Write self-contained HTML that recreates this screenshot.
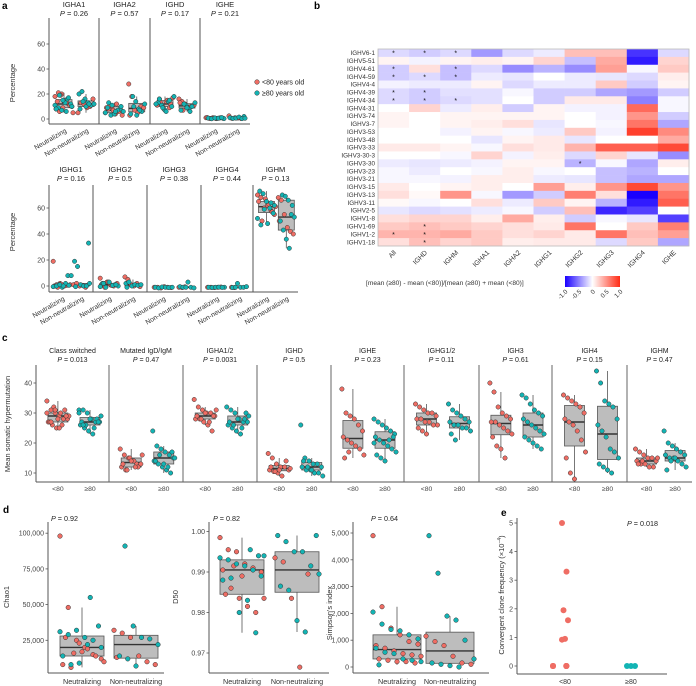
<!DOCTYPE html>
<html><head><meta charset="utf-8"><style>
html,body{margin:0;padding:0;background:#fff;}
svg{display:block;font-family:"Liberation Sans",sans-serif;}
</style></head><body>
<svg id="fig" width="696" height="686" viewBox="0 0 696 686" xmlns="http://www.w3.org/2000/svg"></svg>
<script>
// ---------------- DATA ----------------
const aTopFacets=['IGHA1','IGHA2','IGHD','IGHE'];
const aTopP=['0.26','0.57','0.17','0.21'];
const aTopNeutRed=[[18,21,20,15,12,10,8,6,9,13,11,5,14,19],[5,8,10,4,6,3,9,11,7,12],[12,16,10,14,9,17,11,13,8,15,12],[1,0.5,1,0.3,0.8,0.6,1.2,0.4,0.9]];
const aTopNeutTeal=[[14,16,12,11,9,7,13,17,10,8,19,15,6],[8,6,9,3,4,7,10,5,13,11,6],[18,13,11,7,14,10,12,16,9,6,15],[0.5,1,0.3,0.7,0.2,0.8,0.6,1.1]];
const aTopNonRed=[[5,13,12,9,10,16],[28,18,7,5,10,9,3],[16,14,12,9,10,11,13,7],[2.5,0.5,1,0.8,0.4]];
const aTopNonTeal=[[20,22,16,13,11,12,8,14,10,12],[18,14,8,6,12,4,10,3,7],[11,8,10,13,7,12,9,6],[2,1,0.5,0.7,1.5,0.3,0.6]];
const aBotFacets=['IGHG1','IGHG2','IGHG3','IGHG4','IGHM'];
const aBotP=['0.16','0.5','0.38','0.44','0.13'];
const aBotNeutRed=[[19,1,2,0,0.5,1,0,-1,1.5,0],[6,2,3,1,0,2,1,-1,3,0.5],[-1,-1,-1.5,-0.5,-1,-1.2],[-1,-1,-1.2,-1,-0.8],[70,68,60,62,58,55,65,50,67,63,57,61]];
const aBotNeutTeal=[[8,8,0,1,-1,2,0.5,-0.5,0,1,0],[1,0,2,-1,3,0.5,1,-0.5,2],[-1,-1.5,-0.8,-1,-1.2,-1],[-1,-1,-1.2,-1,-0.9,-1.1],[73,71,65,60,56,52,47,59,48,64,62]];
const aBotNonRed=[[1,2,0,0.5,-1],[7,5,1,0,2,-0.5],[-1,-1.2,-0.6],[-1,-1.2],[68,66,55,45,42,40,50]];
const aBotNonTeal=[[33,19,15,1,0,0,2,-0.5],[2,3,0,1,0.5,1,-1],[3,-1,-1.5,-0.5,-1,-1],[2,-1,-1,-0.5,-1.2,-1],[70,69,66,55,53,50,43,36,29,62]];
const aYTicks=[0,20,40,60];

const heatRows=['IGHV6-1','IGHV5-51','IGHV4-61','IGHV4-59','IGHV4-4','IGHV4-39','IGHV4-34','IGHV4-31','IGHV3-74','IGHV3-7','IGHV3-53','IGHV3-48','IGHV3-33','IGHV3-30-3','IGHV3-30','IGHV3-23','IGHV3-21','IGHV3-15','IGHV3-13','IGHV3-11','IGHV2-5','IGHV1-8','IGHV1-69','IGHV1-2','IGHV1-18'];
const heatCols=['All','IGHD','IGHM','IGHA1','IGHA2','IGHG1','IGHG2','IGHG3','IGHG4','IGHE'];
const heatValues=[
[-.15,-.2,-.15,-.4,-.15,-.08,.3,.3,-.8,-.15],
[.05,-.05,.05,.08,.05,.2,-.25,.4,-.9,.2],
[-.2,.15,-.25,-.15,-.45,-.3,-.45,.45,-.03,.25],
[-.2,-.15,-.25,-.08,-.1,0,-.08,-.1,-.15,.08],
[-.05,-.08,-.08,.05,-.15,-.08,-.08,.25,-.2,.05],
[-.15,-.2,-.12,-.12,-.03,-.2,-.2,-.35,-.4,-.2],
[-.15,-.2,-.15,-.12,0,-.2,.1,.1,-.5,-.03],
[0,.2,-.08,.08,-.2,.05,-.05,-.05,.7,-.03],
[.05,0,.05,.05,.05,.05,0,-.05,.5,-.2],
[.05,0,.05,.08,.15,-.1,0,-.03,.65,-.35],
[0,0,-.05,.05,-.03,-.08,.25,-.05,.9,.55],
[0,0,0,-.1,.05,.1,-.1,0,0,.4],
[.1,.1,.05,-.03,.15,.1,.35,.75,.75,.85],
[0,0,-.03,.2,-.05,.08,-.15,.2,-.1,-.45],
[-.08,-.1,-.08,-.05,.05,.05,-.3,-.03,-.35,.08],
[-.03,-.08,0,-.03,.08,-.03,0,-.25,-.3,0],
[-.03,-.03,-.05,.08,.08,-.08,-.1,-.25,-.35,-.35],
[.1,0,.05,.08,0,.45,.08,.5,.85,.5],
[.15,.03,.5,-.03,-.4,-.2,.6,.15,-1,.65],
[.03,-.03,0,.15,-.08,.25,.05,-.3,-.9,.75],
[-.1,-.15,-.12,-.08,-.03,-.2,.3,-.85,-.75,0],
[.15,.2,.2,.08,.4,.08,-.2,-.03,-.1,-.75],
[.25,.3,.25,.2,.15,.1,.65,0,.25,.6],
[.35,.35,.4,.25,.15,.2,.1,.65,.3,.45],
[.15,.3,.2,.25,.08,.1,.1,-.15,.25,-.35]];
const heatStars=[[0,0],[0,1],[0,2],[2,0],[2,2],[3,0],[3,1],[3,2],[5,0],[5,1],[6,0],[6,1],[6,2],[14,6],[22,1],[23,0],[23,1],[24,1]];
const heatLegendTicks=[-1,-0.5,0,0.5,1];
const heatLegendLabels=['-1.0','-0.5','0','0.5','1.0'];

const cFacets=['Class switched','Mutated IgD/IgM','IGHA1/2','IGHD','IGHE','IGHG1/2','IGH3','IGH4','IGHM'];
const cP=['0.013','0.47','0.0031','0.5','0.23','0.11','0.61','0.15','0.47'];
const cYoung=[[34,31,30,29,28,28,27,26,25,30,31,29,27,32,28,26,29,30,27,31,25],[18,16,15,14,13,13,12,11,15,14,12,16,13,11,14,12],[34.5,32,31,30,30,29,28,28,27,26,24,31,29,28,30,27,29],[16.5,15,13,12,12,11,11,10.5,10,9,14,11.5,12,10.5,11],[38,30,29,28,26,24,22,21,20,19,18,16,15,17],[33,32,31,30,30,29,28,28,27,27,26,26,25,24,23],[40,37,32,30,29,28,27,27,26,25,24,23,22,19,18,15],[36,35,34,33,32,30,28,27,26,24,21,17,15,10,8],[18,17,16,15,15,14,14,13,13,12,12,15,13,14]];
const cOld=[[31,31,30,28,27,27,26,25,24,23,28,29,27,26,28,25,27,30,26],[24,19,18,17,16,15,14,13,12,11,10,15,14,16,13,12,17],[32,31,30,28,27,27,26,25,24,23,28,29,27,26,28,25,30],[26,15,14,13,13,12,12,11,11,10,10,9,14,12,11],[28,27,26,25,24,23,22,21,20,19,18,17,16,15,14,21,22,20],[33,31,30,29,28,27,27,26,26,25,25,24,23,21],[36,35,33,31,30,29,28,27,26,25,24,23,22,21,20,19,18],[44,40,34,33,32,28,26,24,22,18,17,15,13,12,11,10],[24,20,19,18,17,16,16,15,15,14,13,12,11,14,15]];
const cYTicks=[10,20,30,40];

const chaoNeutRed=[98000,48000,25000,20000,15000,12000,8000,6000,23000,19000,14000,10000,27000,16000,17000];
const chaoNeutTeal=[55000,35000,31000,29000,32000,27000,25000,20000,14000,8000,9000,22000];
const chaoNonRed=[32000,30000,27000,14000,10000,8000,13000];
const chaoNonTeal=[91000,35000,27000,26000,22000,14000,12000,7000];
const chaoTicks=[25000,50000,75000,100000];
const chaoTickLabels=['25,000','50,000','75,000','100,000'];
const d50NeutRed=[0.9985,0.9955,0.995,0.992,0.991,0.990,0.9905,0.986,0.9835,0.9815,0.980,0.9835,0.9845,0.9915,0.989];
const d50NeutTeal=[0.9955,0.994,0.9935,0.993,0.992,0.9915,0.9905,0.989,0.988,0.9885,0.980,0.983,0.975,0.994];
const d50NonRed=[0.9935,0.9925,0.9835,0.9665,0.9895];
const d50NonTeal=[0.999,0.999,0.9975,0.995,0.995,0.9915,0.9895,0.9865,0.9855,0.978,0.9752];
const d50Ticks=[0.97,0.98,0.99,1.00];
const d50TickLabels=['0.97','0.98','0.99','1.00'];
const simNeutRed=[4900,2250,1450,1200,950,850,800,700,600,500,450,400,300,250,200,200,150];
const simNeutTeal=[2050,1600,1400,1350,1200,1050,700,550,500,300,250,200,80];
const simNonRed=[1150,950,800,400,150,100];
const simNonTeal=[4900,3500,1900,1750,1000,300,150,100,50,0];
const simTicks=[0,1000,2000,3000,4000,5000];
const simTickLabels=['0','1,000','2,000','3,000','4,000','5,000'];
const eYoung=[5,3.3,1.95,1.6,0.95,0.92,0,0,0,0,0,0,0,0,0,0];
const eOld=[0,0,0];
const eTicks=[0,1,2,3,4,5];

// ---------------- HELPERS ----------------
const NS='http://www.w3.org/2000/svg';
const svg=document.getElementById('fig');
const RED='#ef6d64', TEAL='#13b4b4';
function mk(tag,attrs,parent){const e=document.createElementNS(NS,tag);for(const k in attrs)e.setAttribute(k,attrs[k]);(parent||svg).appendChild(e);return e;}
function txt(x,y,s,size,anchor,extra){const t=mk('text',Object.assign({x:x,y:y,'font-size':size,'text-anchor':anchor||'middle',fill:'#222'},extra||{}));t.textContent=s;return t;}
function pText(x,y,val,size){const t=mk('text',{x:x,y:y,'font-size':size,'text-anchor':'middle',fill:'#222'});const a=document.createElementNS(NS,'tspan');a.setAttribute('font-style','italic');a.textContent='P';t.appendChild(a);t.appendChild(document.createTextNode(' = '+val));return t;}
function quant(arr,p){const s=arr.slice().sort((a,b)=>a-b);const h=(s.length-1)*p;const lo=Math.floor(h);return s[lo]+(s[Math.min(lo+1,s.length-1)]-s[lo])*(h-lo);}
function jit(i,w){return ((((i*37)%17)/16)-0.5)*w;}
function line(x1,y1,x2,y2,col,w){return mk('line',{x1:x1,y1:y1,x2:x2,y2:y2,stroke:col||'#444','stroke-width':w||1});}
function drawBox(cx,vals,ys,bw){
  const q1=quant(vals,.25),q3=quant(vals,.75),med=quant(vals,.5),iqr=q3-q1;
  const hi=Math.max(...vals.filter(v=>v<=q3+1.5*iqr)),lo=Math.min(...vals.filter(v=>v>=q1-1.5*iqr));
  const w1=line(cx,ys(q3),cx,ys(hi),'#555',0.8);
  
  
  const w2=line(cx,ys(q1),cx,ys(lo),'#555',0.8);
  
  
  const r=mk('rect',{x:cx-bw/2,y:ys(q3),width:bw,height:Math.max(0.5,ys(q1)-ys(q3)),fill:'#bdbdbd',stroke:'#555','stroke-width':0.8});
  
  
  const m=line(cx-bw/2,ys(med),cx+bw/2,ys(med),'#333',1.4);
  
  
}
function drawPoints(cx,red,teal,ys,jw,rad,outline){
  const pts=[];red.forEach(v=>pts.push([v,RED]));teal.forEach(v=>pts.push([v,TEAL]));
  pts.forEach((p,i)=>{
    const c=mk('circle',{cx:cx+jit(i,jw),cy:ys(p[0]),r:rad,fill:p[1],stroke:outline?'#333':'none','stroke-width':0.5});
    
    
  });
}
function yAxis(x,yTop,yBot,ticks,labels,ys,size){
  const a=line(x,yTop,x,yBot,'#555',1);
  
  
  ticks.forEach((t,i)=>{
    const tk=line(x-2.5,ys(t),x,ys(t),'#555',0.8);
    
    
    const l=txt(x-4,ys(t)+2.5,labels[i],size||7,'end',{fill:'#444'});
    
    
  });
}
function panelLabel(x,y,s){const t=txt(x,y,s,10,'start',{'font-weight':'bold',fill:'#000'});}
function rotLabel(x,y,s,size,angle,anchor){const t=mk('text',{x:0,y:0,'font-size':size,'text-anchor':anchor||'end',fill:'#333',transform:'translate('+x+','+y+') rotate('+angle+')'});t.textContent=s;return t;}

// ---------------- PANEL A ----------------
panelLabel(2,9,'a');
function aRow(facets,pv,edges,nR,nT,oR,oT,ys,yTop,yBot,titleY){
  yAxis(edges[0],yTop,yBot,aYTicks,aYTicks.map(String),ys,7);
  const bx=line(edges[0],yBot,edges[edges.length-1],yBot,'#555',1);
  
  
  facets.forEach((f,i)=>{
    const x0=edges[i],x1=edges[i+1],w=x1-x0;
    if(i>0){const s=line(x0,yTop,x0,yBot,'#555',1);}
    const t=txt((x0+x1)/2,titleY,f,7.5);
    pText((x0+x1)/2,titleY+9,pv[i],7.5);
    const c1=x0+w*0.3,c2=x0+w*0.74;
    drawBox(c1,nR[i].concat(nT[i]),ys,16);drawBox(c2,oR[i].concat(oT[i]),ys,16);
    drawPoints(c1,nR[i],nT[i],ys,18,2.2,true);drawPoints(c2,oR[i],oT[i],ys,16,2.2,true);
    const l1=rotLabel(c1+3,yBot+8,'Neutralizing',6.8,-30);
    const l2=rotLabel(c2+3,yBot+8,'Non-neutralizing',6.8,-30);
  });
}
const aTopY=v=>119-v*1.25;
aRow(aTopFacets,aTopP,[49,99,150,200,250],aTopNeutRed,aTopNeutTeal,aTopNonRed,aTopNonTeal,aTopY,18,124,7);
const aBotY=v=>286-v*1.3;
aRow(aBotFacets,aBotP,[49,93,147,201,253,298],aBotNeutRed,aBotNeutTeal,aBotNonRed,aBotNonTeal,aBotY,185,292,172);
[[15,83],[15,232]].forEach(p=>{const t=rotLabel(p[0],p[1],'Percentage',7.5,-90,'middle');});
// legend
[[RED,'<80 years old',82],[TEAL,'≥80 years old',93]].forEach(l=>{
  const c=mk('circle',{cx:257,cy:l[2],r:2.3,fill:l[0],stroke:'#333','stroke-width':0.5});
  
  
  const t=txt(262,l[2]+2.5,l[1],7,'start');
  
  
});

// ---------------- PANEL B ----------------
panelLabel(314,9,'b');
const hx0=378,hx1=689,hy0=49,hy1=246;
const cw=(hx1-hx0)/heatCols.length, rh=(hy1-hy0)/heatRows.length;
function heatColor(v){let r,g,b;if(v>=0){r=255;g=255+(42-255)*v;b=255+(20-255)*v;}else{const t=-v;r=255+(25-255)*t;g=255-255*t;b=255;}return 'rgb('+Math.round(r)+','+Math.round(g)+','+Math.round(b)+')';}
heatValues.forEach((row,ri)=>row.forEach((v,ci)=>{
  const r=mk('rect',{x:hx0+ci*cw,y:hy0+ri*rh,width:cw+0.3,height:rh+0.3,fill:heatColor(v)});
  
  
}));
const hb=mk('rect',{x:hx0,y:hy0,width:hx1-hx0,height:hy1-hy0,fill:'none',stroke:'#bbb','stroke-width':0.8});


heatStars.forEach(s=>{
  const t=txt(hx0+(s[1]+0.5)*cw,hy0+(s[0]+0.5)*rh+2.8,'*',7,'middle',{fill:'#111'});
  
  
});
heatRows.forEach((r,i)=>{
  const t=txt(hx0-3,hy0+(i+0.5)*rh+2.2,r,6.3,'end',{fill:'#333'});
  
  
});
heatCols.forEach((c,i)=>{
  const t=rotLabel(hx0+(i+0.5)*cw+3,hy1+7,c,6.8,-45);
  
  
});
const lt=txt(366,285,'[mean (≥80) - mean (<80)]/[mean (≥80) + mean (<80)]',6.6,'start',{fill:'#333'});


const defs=mk('defs',{});
const gr=mk('linearGradient',{id:'cb',x1:0,x2:1,y1:0,y2:0},defs);
[-1,-0.5,0,0.5,1].forEach(v=>mk('stop',{offset:((v+1)/2*100)+'%','stop-color':heatColor(v)},gr));
const cbx0=565,cbx1=620;
const cb=mk('rect',{x:cbx0,y:276,width:cbx1-cbx0,height:11,fill:'url(#cb)'});


heatLegendTicks.forEach((v,i)=>{
  const x=cbx0+(v+1)/2*(cbx1-cbx0);
  const t=rotLabel(x+3,292,heatLegendLabels[i],6.3,-45,'end');
  
  
});

// ---------------- PANEL C ----------------
panelLabel(2,341,'c');
const cEdges=[36,109,183,257,331,404,479,552,627,692];
const cY=v=>473-(v-10)*3;
yAxis(36,365,482,cYTicks,cYTicks.map(String),cY,7);
const cxAx=line(36,482,692,482,'#555',1);


cFacets.forEach((f,i)=>{
  const x0=cEdges[i],x1=cEdges[i+1],w=x1-x0;
  if(i>0){const s=line(x0,365,x0,482,'#666',1);}
  const t=txt((x0+x1)/2,353,f,7);
  pText((x0+x1)/2,362,cP[i],7);
  const c1=x0+w*0.3,c2=x0+w*0.74;
  drawBox(c1,cYoung[i],cY,20);drawBox(c2,cOld[i],cY,20);
  drawPoints(c1,cYoung[i],[],cY,22,2.2,true);drawPoints(c2,[],cOld[i],cY,22,2.2,true);
  const l1=txt(c1,491,'<80',6.8,'middle',{fill:'#444'});
  const l2=txt(c2,491,'≥80',6.8,'middle',{fill:'#444'});
});
{const t=rotLabel(10,424,'Mean somatic hypermutation',7.5,-90,'middle');}

// ---------------- PANEL D ----------------
panelLabel(3,513,'d');
function dPanel(ax,right,ys,ticks,labels,c1,c2,bw,nR,nT,oR,oT,pv,px,title,tx,ty){
  yAxis(ax,522,673,ticks,labels,ys,7);
  const b=line(ax,673,right,673,'#555',1);
  
  
  drawBox(c1,nR.concat(nT),ys,bw);drawBox(c2,oR.concat(oT),ys,bw);
  drawPoints(c1,nR,nT,ys,bw,2.3,true);drawPoints(c2,oR,oT,ys,bw,2.3,true);
  const l1=txt(c1,684,'Neutralizing',7.2,'middle',{fill:'#333'});
  const l2=txt(c2,684,'Non-neutralizing',7.2,'middle',{fill:'#333'});
  const p=pText(px,521,pv,7.2);p.setAttribute('text-anchor','start');
  const t=rotLabel(tx,ty,title,7.5,-90,'middle');
}
dPanel(48,164,v=>676-v/25000*35.7,chaoTicks,chaoTickLabels,82,136,44,chaoNeutRed,chaoNeutTeal,chaoNonRed,chaoNonTeal,'0.92',51,'Chao1',9,597);
dPanel(209,329,v=>572-(v-0.99)*4050,d50Ticks,d50TickLabels,242,297,44,d50NeutRed,d50NeutTeal,d50NonRed,d50NonTeal,'0.82',213,'D50',178,597);
dPanel(353,489,v=>667-v*0.0268,simTicks,simTickLabels,397,450,48,simNeutRed,simNeutTeal,simNonRed,simNonTeal,'0.64',371,"Simpson's index",332,613);

// ---------------- PANEL E ----------------
panelLabel(501,516,'e');
const eY=v=>666-v*28.6;
yAxis(517,518,674,eTicks,eTicks.map(String),eY,7);
{const b=line(517,674,667,674,'#555',1);}
eYoung.forEach((v,i)=>{
  const off=v===0?(((i*5)%10)/9-0.5)*24:(((i*3)%5)/4-0.5)*6;
  const c=mk('circle',{cx:565+off,cy:eY(v),r:3,fill:RED});
  
  
});
eOld.forEach((v,i)=>{
  const c=mk('circle',{cx:627+i*4,cy:eY(v),r:3,fill:TEAL});
  
  
});
{const l1=txt(565,684,'<80',7,'middle',{fill:'#333'});
 const l2=txt(631,684,'≥80',7,'middle',{fill:'#333'});
 const p=pText(627,526,'0.018',7.2);p.setAttribute('text-anchor','start');
 const t=mk('text',{x:0,y:0,'font-size':7.5,'text-anchor':'middle',fill:'#333',transform:'translate(504,595) rotate(-90)'});
 t.textContent='Convergent clone frequency  (×10';
 const sp=document.createElementNS(NS,'tspan');sp.setAttribute('baseline-shift','super');sp.setAttribute('font-size','5');sp.textContent='−4';t.appendChild(sp);
 t.appendChild(document.createTextNode(')'));
 
 }
</script>
</body></html>
